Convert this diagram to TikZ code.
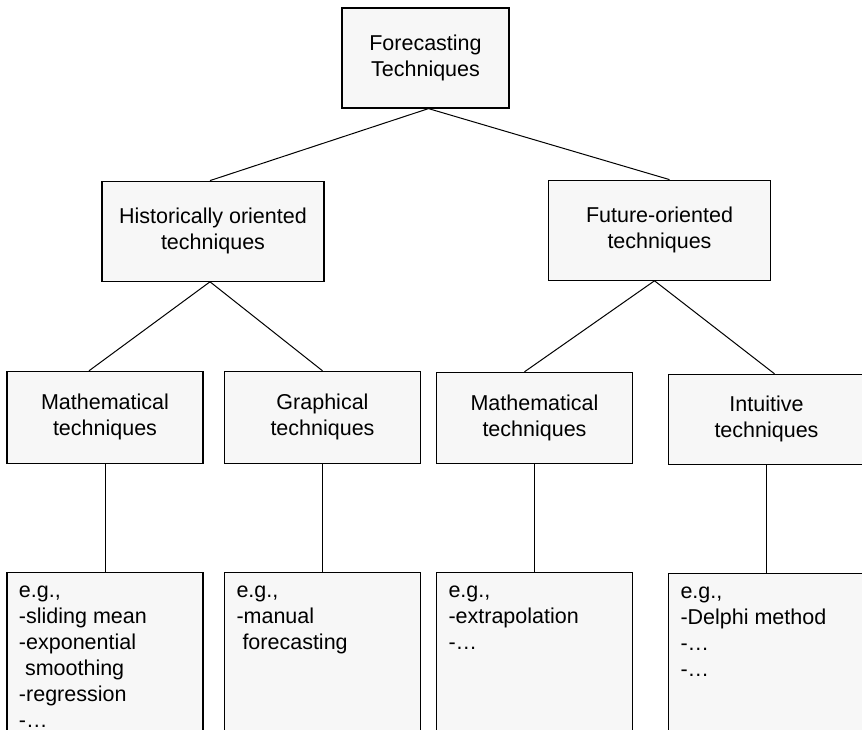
\documentclass[tikz,border=0pt]{standalone}
\usepackage{fontspec}
\setmainfont{Liberation Sans}
\usetikzlibrary{positioning}

\definecolor{boxfill}{HTML}{F7F7F7}
\newcommand{\exitems}[1]{\parbox[t][170pt][t]{172pt}{\raggedright\strut #1}}

\begin{document}
\begin{tikzpicture}[
  x=1pt, y=-1pt,
  every node/.style={draw, fill=boxfill, line width=1.2pt, align=center, inner sep=0pt,
                     font=\fontsize{21.5pt}{26pt}\selectfont},
  rootbox/.style={minimum width=167pt, minimum height=100pt},
  groupbox/.style={minimum width=222pt, minimum height=100pt},
  methodbox/.style={minimum width=196pt, minimum height=92pt},
  examplebox/.style={minimum width=196pt, inner xsep=12pt, inner ysep=7pt},
  link/.style={line width=1pt}
]
  \useasboundingbox (0,0) rectangle (862,730);
  \clip (0,0) rectangle (862,730);

  \node[rootbox] (root) at (425.5,58) {Forecasting\\Techniques};
  \node[groupbox, below=72pt of root, xshift=-212.5pt] (hist) {Historically oriented\\techniques};
  \node[groupbox, below=71pt of root, xshift=234pt] (fut) {Future-oriented\\techniques};

  \node[methodbox, below=89pt of hist, xshift=-108pt] (mathhist) {Mathematical\\techniques};
  \node[methodbox, below=89pt of hist, xshift=109.5pt] (graph) {Graphical\\techniques};
  \node[methodbox, below=91pt of fut, xshift=-125pt, minimum height=91pt] (mathfut) {Mathematical\\techniques};
  \node[methodbox, below=93pt of fut, xshift=107pt, minimum height=90pt] (intu) {Intuitive\\techniques};

  \node[examplebox, below=108pt of mathhist] (exmathhist)
    {\exitems{e.g.,\\-sliding mean\\-exponential\\\hspace*{0.28em}smoothing\\-regression\\-…}};
  \node[examplebox, below=108pt of graph] (exgraph)
    {\exitems{e.g.,\\-manual\\\hspace*{0.28em}forecasting}};
  \node[examplebox, below=108pt of mathfut] (exmathfut)
    {\exitems{e.g.,\\-extrapolation\\-…}};
  \node[examplebox, below=108pt of intu] (exintu)
    {\exitems{e.g.,\\-Delphi method\\-…\\-…}};

  \draw[link] ([xshift=3pt]root.south) -- ([xshift=-3pt]hist.north);
  \draw[link] ([xshift=3pt]root.south) -- ([xshift=10pt]fut.north);

  \draw[link] ([xshift=-3pt]hist.south) -- ([xshift=-16pt]mathhist.north);
  \draw[link] ([xshift=-3pt]hist.south) -- (graph.north);
  \draw[link] ([xshift=-5pt]fut.south) -- ([xshift=-10pt]mathfut.north);
  \draw[link] ([xshift=-5pt]fut.south) -- ([xshift=8pt]intu.north);

  \draw[link] (mathhist) -- (exmathhist);
  \draw[link] (graph) -- (exgraph);
  \draw[link] (mathfut) -- (exmathfut);
  \draw[link] (intu) -- (exintu);
\end{tikzpicture}
\end{document}
